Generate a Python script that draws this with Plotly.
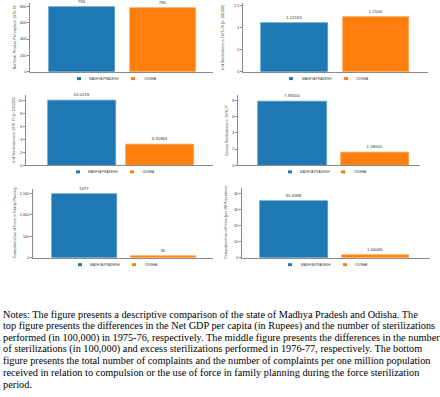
import plotly.graph_objects as go

# ---------------- data ----------------
states = ["MADHYA PRADESH", "ODISHA"]

ndp_1975 = [793, 785]
steril_1975 = [1.12163, 1.2504]
steril_1976 = [10.0218, 3.20984]
excess_1976 = [7.93504, 1.58005]
complaints_total = [1477, 36]
complaints_per_m = [35.4588, 1.64046]

y_titles = [
    "Net Dom. Product Per capita in 1975-76",
    "# of Sterilizations in 1975-76 (in 100,000)",
    "# of Sterilizations in 1976-77 (in 100,000)",
    "Excess Sterilizations in 1976-77",
    "Compulsion/Use of Force in Family Planning",
    "Compulsion/Use of Force (per 1M Population)",
]
tick_vals = [
    [0, 200, 400, 600, 800],
    [0, 0.5, 1, 1.5],
    [0, 2, 4, 6, 8, 10],
    [0, 2, 4, 6, 8],
    [0, 500, 1000, 1500],
    [0, 10, 20, 30, 40],
]
tick_text = [
    ["0", "200", "400", "600", "800"],
    ["0", ".5", "1", "1.5"],
    ["0", "2", "4", "6", "8", "10"],
    ["0", "2", "4", "6", "8"],
    ["0", "500", "1,000", "1,500"],
    ["0", "10", "20", "30", "40"],
]

notes_lines = [
    "Notes: The figure presents a descriptive comparison of the state of Madhya Pradesh and Odisha. The",
    "top figure presents the differences in the Net GDP per capita (in Rupees) and the number of sterilizations",
    "performed (in 100,000) in 1975-76, respectively. The middle figure presents the differences in the number",
    "of sterilizations (in 100,000) and excess sterilizations performed in 1976-77, respectively. The bottom",
    "figure presents the total number of complaints and the number of complaints per one million population",
    "received in relation to compulsion or the use of force in family planning during the force sterilization",
    "period.",
]

series = [ndp_1975, steril_1975, steril_1976, excess_1976, complaints_total, complaints_per_m]

# ---------------- styling / layout ----------------
W, H = 440, 397
colors = ["#1f77b4", "#ff7f0e"]
edge = ["#4f97c9", "#ffa049"]
axis_col = "#8a8a8a"
txt_col = "#333333"
sans = "Liberation Sans, Arial, sans-serif"
serif = "Liberation Serif, Times New Roman, serif"

# pixel geometry per panel: plot x0,x1, y_top,y_bottom, y max, x range, bar width,
# title x, legend (blue marker x, blue text x, orange marker x, orange text x, y)
panels = [
    dict(x0=30, x1=213, yt=3, yb=72, ymax=845, xr=[-0.646, 1.627], bw=0.82, tx=15,
         leg=(79, 87, 133, 142, 79)),
    dict(x0=243, x1=428, yt=3, yb=72, ymax=1.568, xr=[-0.632, 1.638], bw=0.82, tx=223,
         leg=(291, 300, 346, 354, 79)),
    dict(x0=26, x1=213, yt=95, yb=166, ymax=10.87, xr=[-0.718, 1.68], bw=0.88, tx=14,
         leg=(78, 86, 132, 140, 172.7)),
    dict(x0=238, x1=420, yt=95, yb=166, ymax=8.74, xr=[-0.66, 1.545], bw=0.83, tx=227,
         leg=(290, 298, 343, 352, 172.7)),
    dict(x0=33, x1=213, yt=190, yb=259, ymax=1600, xr=[-0.652, 1.627], bw=0.82, tx=15,
         leg=(80, 88, 134, 143, 266)),
    dict(x0=242, x1=430, yt=189, yb=259, ymax=43.3, xr=[-0.638, 1.669], bw=0.83, tx=226,
         leg=(290, 299, 345, 353, 266)),
]


def fx(x):
    return x / W


def fy(y):
    return 1 - y / H


fig = go.Figure()
layout = dict(
    width=W, height=H,
    margin=dict(l=0, r=0, t=0, b=0),
    paper_bgcolor="white", plot_bgcolor="white",
    showlegend=False, bargap=0,
)
annotations = []
shapes = []

for i, (p, vals) in enumerate(zip(panels, series)):
    n = i + 1
    xa = "x" if n == 1 else f"x{n}"
    ya = "y" if n == 1 else f"y{n}"
    for j, st in enumerate(states):
        fig.add_trace(go.Bar(
            x=[j], y=[vals[j]], width=[p["bw"]], name=st,
            marker=dict(color=colors[j], line=dict(color=edge[j], width=0.7)),
            text=[str(vals[j])], textposition="outside", cliponaxis=False,
            textfont=dict(size=4.3, color=txt_col, family=sans),
            xaxis=xa, yaxis=ya, hoverinfo="skip",
        ))
    layout["xaxis" if n == 1 else f"xaxis{n}"] = dict(
        domain=[fx(p["x0"]), fx(p["x1"])], range=p["xr"], anchor=ya,
        showticklabels=False, ticks="", showgrid=False, zeroline=False,
        showline=True, linecolor=axis_col, linewidth=0.8,
    )
    layout["yaxis" if n == 1 else f"yaxis{n}"] = dict(
        domain=[fy(p["yb"]), fy(p["yt"])], range=[0, p["ymax"]], anchor=xa,
        tickvals=tick_vals[i], ticktext=tick_text[i],
        ticks="outside", ticklen=2, tickwidth=0.6, tickcolor=axis_col,
        tickfont=dict(size=3.8, color=txt_col, family=sans),
        showgrid=False, zeroline=False,
        showline=True, linecolor=axis_col, linewidth=0.8,
    )
    # y-axis title
    annotations.append(dict(
        text=y_titles[i], textangle=-90, xref="paper", yref="paper",
        x=fx(p["tx"]), y=fy((p["yt"] + p["yb"]) / 2), xanchor="center", yanchor="middle",
        showarrow=False, font=dict(size=3.6, color=txt_col, family=sans),
    ))
    # legend
    bmx, btx, omx, otx, ly = p["leg"]
    for mx, tx, col, st in [(bmx, btx, colors[0], states[0]), (omx, otx, colors[1], states[1])]:
        shapes.append(dict(
            type="rect", xref="paper", yref="paper",
            x0=fx(mx - 2), x1=fx(mx + 2), y0=fy(ly + 1.5), y1=fy(ly - 1.5),
            fillcolor=col, line=dict(width=0),
        ))
        annotations.append(dict(
            text=st, xref="paper", yref="paper", x=fx(tx), y=fy(ly),
            xanchor="left", yanchor="middle", showarrow=False,
            font=dict(size=3.2, color=txt_col, family=sans),
        ))

# notes text
line_y = [316, 327.7, 339.4, 351.1, 362.8, 374.5, 386.2]
for ln, yy in zip(notes_lines, line_y):
    annotations.append(dict(
        text=ln, xref="paper", yref="paper", x=fx(1), y=fy(yy),
        xanchor="left", yanchor="middle", showarrow=False,
        font=dict(size=10.3, color="black", family=serif),
    ))

layout["annotations"] = annotations
layout["shapes"] = shapes
fig.update_layout(**layout)
fig.write_html(
    "out.html",
    config={"displayModeBar": False},
    post_script="document.body.style.margin='0';document.body.style.overflow='hidden';",
)
